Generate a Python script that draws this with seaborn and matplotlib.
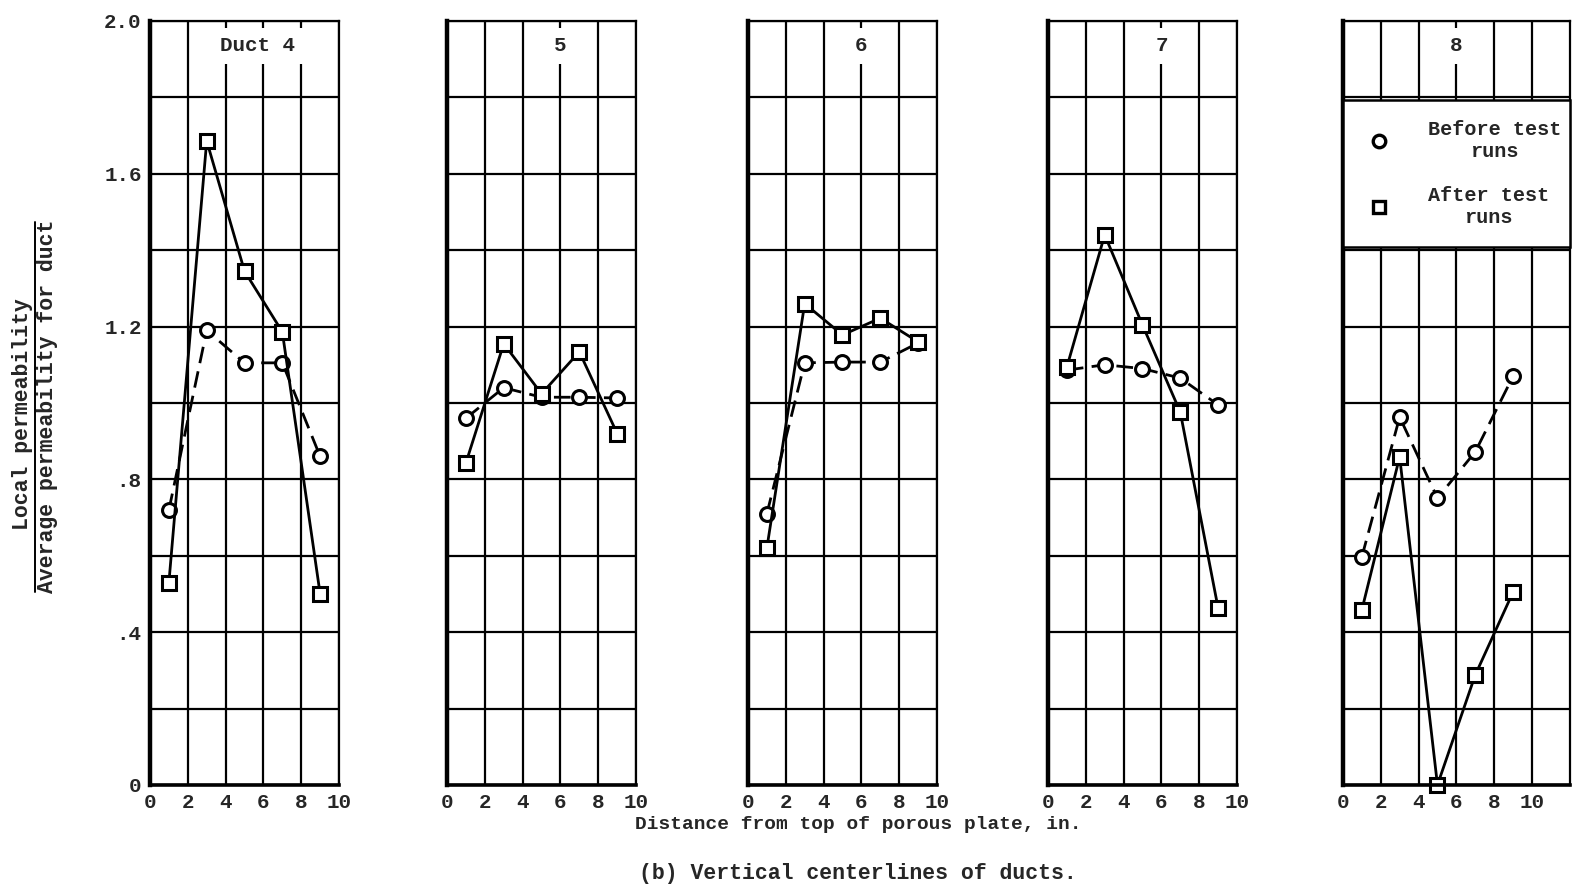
import numpy as np
import pandas as pd
import seaborn as sns
from matplotlib import pyplot as plt
from matplotlib.lines import Line2D

# measuring stations along the vertical centerline, in.
positions = [1, 3, 5, 7, 9]

panel_titles = ['Duct 4', '5', '6', '7', '8']

# local / average permeability, before test runs (circles)
before_4 = [0.72, 1.19, 1.105, 1.105, 0.86]
before_5 = [0.96, 1.04, 1.015, 1.015, 1.013]
before_6 = [0.71, 1.105, 1.107, 1.107, 1.157]
before_7 = [1.086, 1.10, 1.09, 1.065, 0.995]
before_8 = [0.597, 0.963, 0.751, 0.872, 1.07]

# local / average permeability, after test runs (squares)
after_4 = [0.53, 1.686, 1.345, 1.186, 0.50]
after_5 = [0.843, 1.155, 1.024, 1.134, 0.92]
after_6 = [0.62, 1.26, 1.178, 1.222, 1.16]
after_7 = [1.094, 1.44, 1.204, 0.976, 0.463]
after_8 = [0.458, 0.859, 0.0, 0.288, 0.505]

before = [before_4, before_5, before_6, before_7, before_8]
after = [after_4, after_5, after_6, after_7, after_8]

x_ticks = [0, 2, 4, 6, 8, 10]
y_ticks = [0, 0.4, 0.8, 1.2, 1.6, 2.0]
y_tick_labels = ['0', '.4', '.8', '1.2', '1.6', '2.0']

sns.set_style('white')
plt.rcParams['font.family'] = ['Liberation Mono', 'DejaVu Sans Mono']
plt.rcParams['font.weight'] = 'bold'

fig = plt.figure(figsize=(15.74, 8.92), dpi=100)

lefts = [0.0953, 0.2840, 0.4752, 0.6658, 0.8532]
unit_w = 0.1201 / 10
bottom, height = 0.1200, 0.8565

for i, title in enumerate(panel_titles):
    xmax = 12 if i == 4 else 10
    ax = fig.add_axes([lefts[i], bottom, unit_w * xmax, height])
    df = pd.DataFrame({'x': positions, 'before': before[i], 'after': after[i]})

    sns.lineplot(data=df, x='x', y='before', ax=ax, color='black', marker='o', markersize=10,
                 markerfacecolor='white', markeredgecolor='black', markeredgewidth=2.2,
                 linewidth=2, linestyle=(0, (6, 3)), sort=False, clip_on=False, zorder=4)
    sns.lineplot(data=df, x='x', y='after', ax=ax, color='black', marker='s', markersize=10,
                 markerfacecolor='white', markeredgecolor='black', markeredgewidth=2.2,
                 linewidth=2, sort=False, clip_on=False, zorder=4)

    ax.set_xlim(0, xmax)
    ax.set_ylim(0, 2.0)
    ax.set_xticks(x_ticks)
    ax.set_xticklabels([str(t) for t in x_ticks])
    ax.set_yticks(y_ticks)
    ax.set_yticks(np.arange(0.2, 2.0, 0.4), minor=True)
    if i == 0:
        ax.set_yticklabels(y_tick_labels)
    else:
        ax.set_yticklabels([])
    ax.tick_params(axis='both', which='both', length=0, labelsize=15, pad=6)
    ax.set_xlabel('')
    ax.set_ylabel('')
    ax.grid(True, which='both', color='black', linewidth=1.6)
    ax.set_axisbelow(True)
    for side, s in ax.spines.items():
        s.set_color('black')
        s.set_zorder(6)
        s.set_linewidth({'left': 3.2, 'bottom': 2.6}.get(side, 1.6))

    tx = 5.7 if i == 0 else 6
    ax.text(tx, 1.935, title, ha='center', va='center', fontsize=15, zorder=5,
            bbox=dict(facecolor='white', edgecolor='none', pad=6))

    if i == 4:
        handles = [Line2D([], [], marker='o', linestyle='none', color='black', markersize=9,
                          markerfacecolor='white', markeredgewidth=2.4),
                   Line2D([], [], marker='s', linestyle='none', color='black', markersize=9,
                          markerfacecolor='white', markeredgewidth=2.4)]
        leg = ax.legend(handles, ['Before test\nruns', 'After test\nruns'], loc='center',
                        bbox_to_anchor=(0, 0.703, 1, 0.195), mode='expand', borderaxespad=0,
                        fontsize=14.5, frameon=True, fancybox=False, framealpha=1,
                        edgecolor='black', borderpad=1.0, labelspacing=1.25,
                        handletextpad=1.6, handlelength=1.6)
        leg.get_frame().set_linewidth(1.8)
        leg.set_zorder(7)
        for t in leg.get_texts():
            t.set_multialignment('center')

# two-line ratio label on the left
fig.text(0.0145, 0.536, 'Local permeability', rotation=90, ha='center', va='center', fontsize=15.5)
fig.text(0.0300, 0.545, 'Average permeability for duct', rotation=90, ha='center', va='center',
         fontsize=15.5)
fig.add_artist(Line2D([0.0225, 0.0225], [0.336, 0.751], color='black', linewidth=1.4,
                      transform=fig.transFigure))

fig.text(0.545, 0.0762, 'Distance from top of porous plate, in.', ha='center', va='center',
         fontsize=14)
fig.text(0.545, 0.0213, '(b) Vertical centerlines of ducts.', ha='center', va='center',
         fontsize=15.5)

plt.savefig('out.png', dpi=100)
